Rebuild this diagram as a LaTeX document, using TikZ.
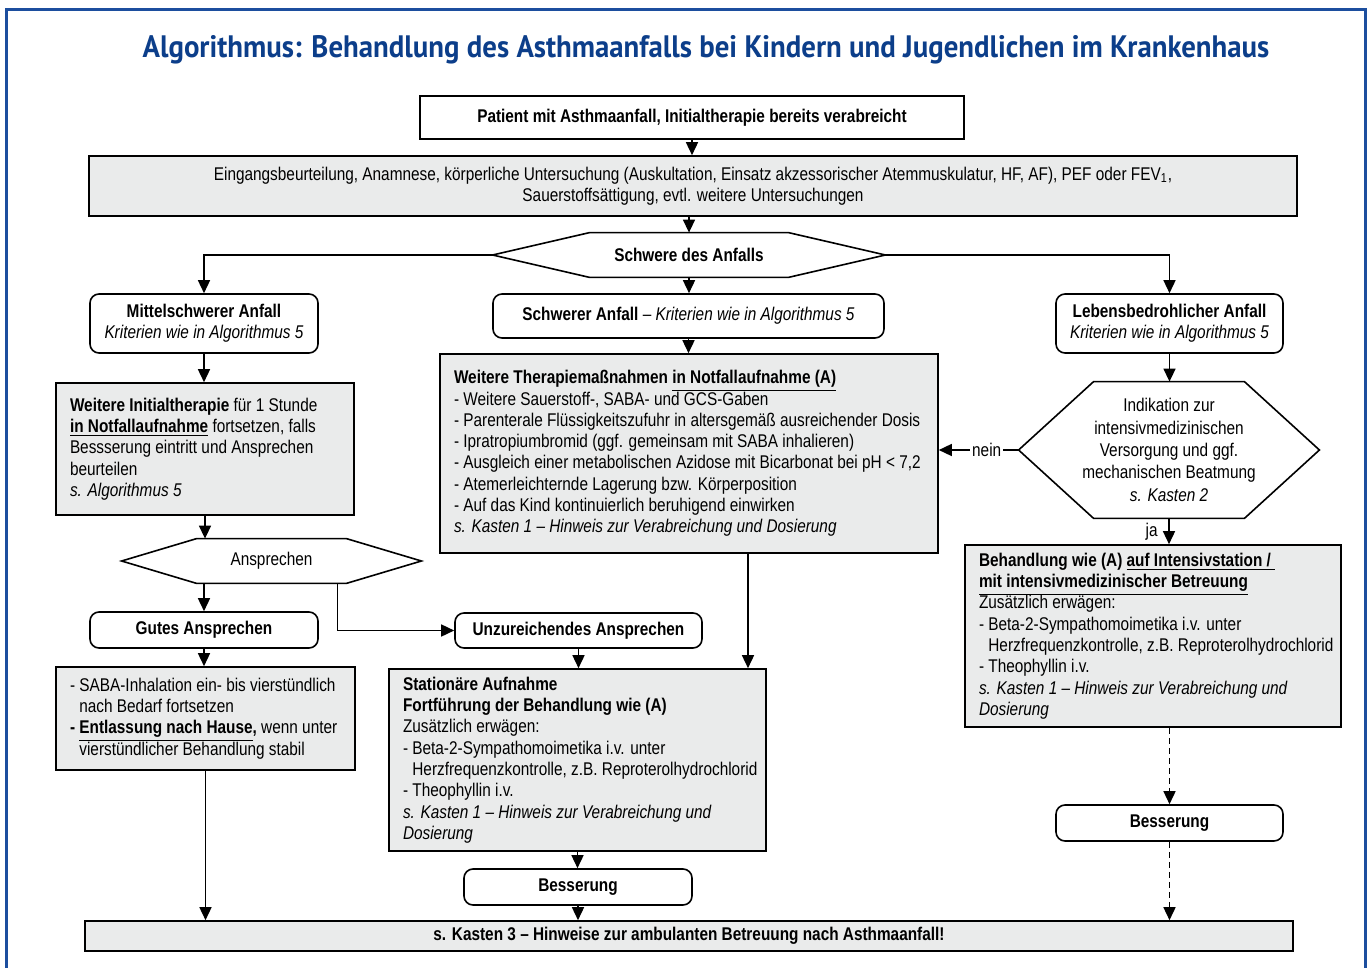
\documentclass[tikz,border=0pt]{standalone}
\usepackage{fontspec}
\setmainfont{Liberation Sans}[FakeStretch=0.835]
\newfontfamily\titlefont{PT Sans}[FakeStretch=0.93]
\usepackage{tikz}
\usetikzlibrary{arrows.meta,shapes,positioning,calc}
\definecolor{titleblue}{RGB}{12,62,138}
\definecolor{frameblue}{RGB}{28,78,158}
\definecolor{boxgray}{RGB}{234,235,235}
\newcommand{\bodysize}{\fontsize{9.2}{10.65}\selectfont}
\newcommand{\dashindent}{\hphantom{-\ }}
% hexagon around an (invisible) node, #2 = inset of the tips
\newcommand{\hexframe}[2]{%
  \draw[conn, line width=0.8pt] (#1.west) -- ($(#1.north west)+(#2,0)$) -- ($(#1.north east)+(-#2,0)$)
    -- (#1.east) -- ($(#1.south east)+(-#2,0)$) -- ($(#1.south west)+(#2,0)$) -- cycle;}
\tikzset{
  conn/.style={line width=0.75pt},
  flow/.style={conn, -{Triangle[length=6.5pt,width=6pt]}},
  plainbox/.style={draw, line width=0.8pt, fill=white, inner sep=0pt, align=center},
  roundbox/.style={plainbox, rounded corners=4.5pt},
  graybox/.style={draw, line width=0.8pt, fill=boxgray, inner xsep=7pt, inner ysep=0pt, align=flush left},
  hexnode/.style={inner sep=0pt, align=center},
}
\begin{document}
\begin{tikzpicture}[x=0.5pt, y=-0.5pt, font=\bodysize]
\useasboundingbox (0,0) rectangle (1370,968);

% Frame and title
\draw[frameblue, line width=1.5pt] (6,990) -- (6,10) -- (1365,10) -- (1365,990);
\node[text=titleblue, font=\titlefont\bfseries\fontsize{15.5}{18}\selectfont] (title) at (706,50)
  {Algorithmus: Behandlung des Asthmaanfalls bei Kindern und Jugendlichen im Krankenhaus};

% Top
\node[plainbox, minimum width=272pt, minimum height=21.5pt, font=\bodysize\bfseries] (start) at (692,117.5)
  {Patient mit Asthmaanfall, Initialtherapie bereits verabreicht};
\node[plainbox, fill=boxgray, minimum width=604pt, minimum height=30pt] (assess) at (693,186)
  {Eingangsbeurteilung, Anamnese, k\"orperliche Untersuchung (Auskultation, Einsatz akzessorischer Atemmuskulatur, HF, AF), PEF oder FEV\textsubscript{1},\\
   Sauerstoffs\"attigung, evtl. weitere Untersuchungen};
\node[hexnode, minimum width=196pt, minimum height=22pt, font=\bodysize\bfseries] (sev) at (689,255) {Schwere des Anfalls};
\hexframe{sev}{97}

% Three branches
\node[roundbox, minimum width=114pt, minimum height=29.5pt] (mod) at (204,323.5)
  {\textbf{Mittelschwerer Anfall}\\\textit{Kriterien wie in Algorithmus 5}};
\node[roundbox, minimum width=195.5pt, minimum height=22pt] (sev2) at (688.5,316)
  {\textbf{Schwerer Anfall} -- \textit{Kriterien wie in Algorithmus 5}};
\node[roundbox, minimum width=113.5pt, minimum height=29.5pt] (life) at (1169.5,323.5)
  {\textbf{Lebensbedrohlicher Anfall}\\\textit{Kriterien wie in Algorithmus 5}};

% Left column
\node[graybox, minimum width=149pt, minimum height=66pt, text width=135pt] (init) at (205,449)
  {\textbf{Weitere Initialtherapie} f\"ur 1 Stunde\\
   \textbf{\underline{in Notfallaufnahme}} fortsetzen, falls\\
   Bessserung eintritt und Ansprechen\\
   beurteilen\\
   \textit{s. Algorithmus 5}};
\node[hexnode, minimum width=149.5pt, minimum height=22pt] (resp) at (271.5,561) {Ansprechen};
\hexframe{resp}{75}
\node[roundbox, minimum width=114pt, minimum height=18pt, font=\bodysize\bfseries] (good) at (204,630) {Gutes Ansprechen};
\node[graybox, minimum width=149.5pt, minimum height=51.5pt, text width=135.5pt] (dis) at (205.5,718.5)
  {\mbox{- SABA-Inhalation ein- bis vierst\"undlich}\\
   \dashindent nach Bedarf fortsetzen\\
   \mbox{\textbf{- \underline{Entlassung nach Hause},} wenn unter}\\
   \dashindent vierst\"undlicher Behandlung stabil};

% Middle column
\node[graybox, minimum width=249pt, minimum height=99.5pt, text width=235pt] (emA) at (689,453.5)
  {\textbf{Weitere Therapiema\ss nahmen \underline{in Notfallaufnahme (A)}}\\
   - Weitere Sauerstoff-, SABA- und GCS-Gaben\\
   \mbox{- Parenterale Fl\"ussigkeitszufuhr in altersgem\"a\ss\ ausreichender Dosis}\\
   - Ipratropiumbromid (ggf. gemeinsam mit SABA inhalieren)\\
   \mbox{- Ausgleich einer metabolischen Azidose mit Bicarbonat bei pH < 7,2}\\
   - Atemerleichternde Lagerung bzw. K\"orperposition\\
   - Auf das Kind kontinuierlich beruhigend einwirken\\
   \mbox{\textit{s. Kasten 1 -- Hinweis zur Verabreichung und Dosierung}}};
\coordinate (emAout) at ($(emA.south)+(59,0)$);
\node[roundbox, minimum width=123.5pt, minimum height=17.5pt, font=\bodysize\bfseries] (unz) at (578.5,630.5) {Unzureichendes Ansprechen};
\node[graybox, minimum width=188.5pt, minimum height=91pt, text width=174.5pt] (stat) at (577.5,760)
  {\textbf{Station\"are Aufnahme}\\
   \textbf{Fortf\"uhrung der Behandlung wie (A)}\\
   Zus\"atzlich erw\"agen:\\
   - Beta-2-Sympathomoimetika i.v. unter\\
   \mbox{\dashindent Herzfrequenzkontrolle, z.B. Reproterolhydrochlorid}\\
   - Theophyllin i.v.\\
   \textit{s. Kasten 1 -- Hinweis zur Verabreichung und}\\
   \textit{Dosierung}};
\node[roundbox, minimum width=114pt, minimum height=18pt, font=\bodysize\bfseries] (bes1) at (578,887) {Besserung};

% Right column
\node[hexnode, minimum width=150pt, minimum height=68pt, font=\fontsize{9.2}{11.2}\selectfont] (ind) at (1169,450)
  {Indikation zur\\intensivmedizinischen\\Versorgung und ggf.\\mechanischen Beatmung\\\textit{s. Kasten 2}};
\hexframe{ind}{75}
\node[graybox, minimum width=188pt, minimum height=91pt, text width=174pt] (icu) at (1153,636)
  {\textbf{Behandlung wie (A) \underline{auf Intensivstation /\ }}\\
   \textbf{\underline{mit intensivmedizinischer Betreuung}}\\
   Zus\"atzlich erw\"agen:\\
   - Beta-2-Sympathomoimetika i.v. unter\\
   \mbox{\dashindent Herzfrequenzkontrolle, z.B. Reproterolhydrochlorid}\\
   - Theophyllin i.v.\\
   \textit{s. Kasten 1 -- Hinweis zur Verabreichung und}\\
   \textit{Dosierung}};
\node[roundbox, minimum width=113.5pt, minimum height=18pt, font=\bodysize\bfseries] (bes2) at (1169.5,823) {Besserung};

% Bottom
\node[plainbox, fill=boxgray, minimum width=604pt, minimum height=15pt, font=\bodysize\bfseries] (fin) at (689,936)
  {s. Kasten 3 -- Hinweise zur ambulanten Betreuung nach Asthmaanfall!};

% Connectors
\draw[flow] (start.south) -- (start.south |- assess.north);
\draw[flow] (assess.south -| sev.north) -- (sev.north);
\draw[flow] (sev.west) -| (mod.north);
\draw[flow] (sev.east) -| (life.north);
\draw[flow] (sev.south) -- (sev.south |- sev2.north);
\draw[flow] (sev2.south) -- (sev2.south |- emA.north);
\draw[flow] (mod.south) -- (mod.south |- init.north);
\draw[flow] (init.south) -- (init.south |- resp.north);
\draw[flow] (good.north |- resp.south) -- (good.north);
\draw[flow] ($(resp.south)+(66,0)$) |- (unz.west);
\draw[flow] (good.south) -- (good.south |- dis.north);
\draw[flow] (dis.south) -- (dis.south |- fin.north);
\draw[flow] (unz.south) -- (unz.south |- stat.north);
\draw[flow] (emAout) -- (emAout |- stat.north);
\draw[flow] (stat.south) -- (stat.south |- bes1.north);
\draw[flow] (bes1.south) -- (bes1.south |- fin.north);
\draw[flow] (life.south) -- (life.south |- ind.north);
\draw[flow] (ind.west) -- (ind.west -| emA.east) node[pos=0.4, fill=white, inner sep=1pt] {nein};
\draw[flow] (ind.south) -- (ind.south |- icu.north) node[midway, left=2pt] {ja};
\draw[flow, dash pattern=on 3pt off 2pt] (bes2.north |- icu.south) -- (bes2.north);
\draw[flow, dash pattern=on 3pt off 2pt] (bes2.south) -- (bes2.south |- fin.north);
\end{tikzpicture}
\end{document}
